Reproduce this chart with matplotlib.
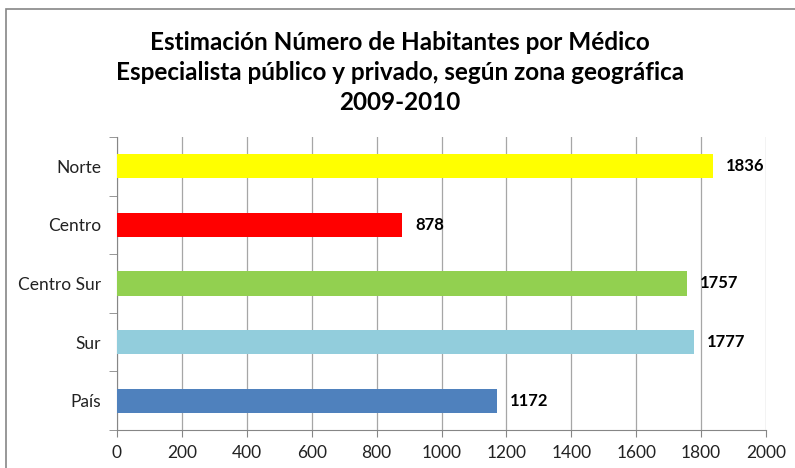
import matplotlib
matplotlib.use("Agg")
import matplotlib.pyplot as plt
from matplotlib.patches import Rectangle

# data (top to bottom as in the chart)
zonas = ["Norte", "Centro", "Centro Sur", "Sur", "País"]
habitantes = [1836, 878, 1757, 1777, 1172]
colores = ["#FFFF00", "#FF0000", "#92D050", "#92CDDC", "#4F81BD"]
x_ticks = [0, 200, 400, 600, 800, 1000, 1200, 1400, 1600, 1800, 2000]

plt.rcParams["font.family"] = ["Lato", "DejaVu Sans"]

fig = plt.figure(figsize=(7.95, 4.68), dpi=100)
ax = fig.add_axes([117 / 795, 1 - 430 / 468, 649 / 795, 293 / 468])

# chart frame (only top and left edges visible in the reference)
fig.patches.append(Rectangle((6 / 795, -0.1), 1.2, 1 - 9 / 468 + 0.1,
                             transform=fig.transFigure, fill=False,
                             edgecolor="#868686", lw=1.2))

pos = list(range(len(zonas)))[::-1]
ax.barh(pos, habitantes, height=0.41, color=colores, zorder=3)

for p, v in zip(pos, habitantes):
    ax.text(v + 40, p, str(v), va="center", ha="left",
            fontsize=12, fontweight="bold", color="black")

ax.set_xlim(0, 2000)
ax.set_ylim(-0.5, len(zonas) - 0.5)
ax.set_xticks(x_ticks)
ax.set_xticklabels([str(t) for t in x_ticks], fontsize=12.5, color="#222222")
ax.set_yticks(pos)
ax.set_yticklabels(zonas, fontsize=12.5, color="#222222")
ax.set_yticks([i - 0.5 for i in range(len(zonas) + 1)], minor=True)

ax.grid(axis="x", color="#a6a6a6", lw=0.9, zorder=0)
for s in ["top", "right"]:
    ax.spines[s].set_visible(False)
for s in ["left", "bottom"]:
    ax.spines[s].set_color("#868686")
ax.tick_params(axis="x", length=5, color="#868686", pad=6)
ax.tick_params(axis="y", which="major", length=0, pad=11.5)
ax.tick_params(axis="y", which="minor", length=6, color="#868686")

fig.text(0.503, 1 - 42 / 468, "Estimación Número de Habitantes por Médico",
         ha="center", va="center", fontsize=17.5, fontweight="bold")
fig.text(0.503, 1 - 73 / 468, "Especialista público y privado, según zona geográfica",
         ha="center", va="center", fontsize=17.5, fontweight="bold")
fig.text(0.503, 1 - 102 / 468, "2009-2010",
         ha="center", va="center", fontsize=17.5, fontweight="bold")

fig.savefig("out.png", dpi=100)
